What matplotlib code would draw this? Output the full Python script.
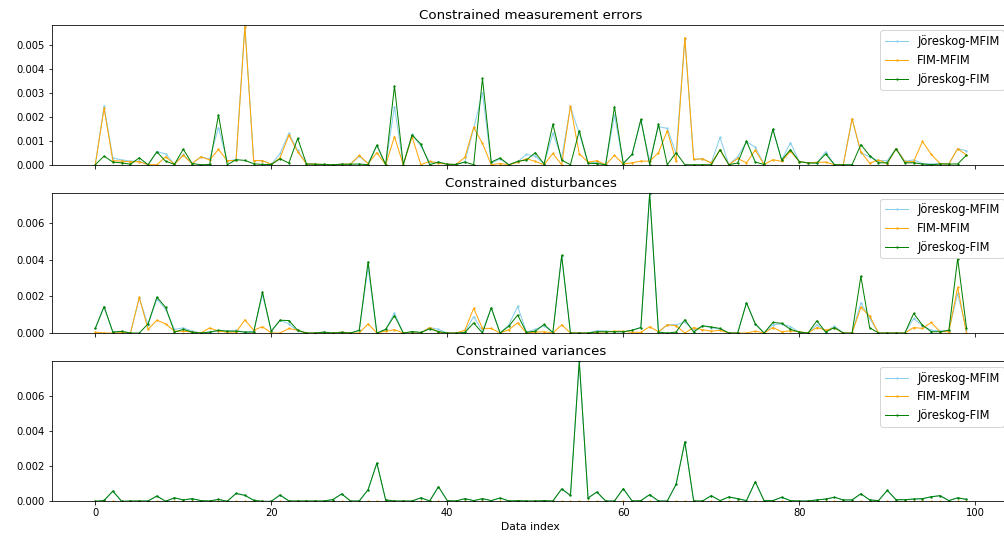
import matplotlib.pyplot as plt

idx = list(range(100))

# Constrained measurement errors (values x 1e-3)
err_jm = [0, 2.45, 0.28, 0.2, 0.15, 0.15, 0, 0.55, 0.45, 0.02,
          0.43, 0.05, 0.33, 0.24, 1.55, 0.15, 0.22, 5.85, 0.17, 0.17,
          0.01, 0.47, 1.31, 0.6, 0.04, 0.02, 0.01, 0, 0.02, 0.02,
          0.35, 0.05, 0.8, 0, 2.42, 0, 1.27, 0.78, 0.1, 0.1,
          0.02, 0.01, 0.12, 1.52, 3.0, 0.05, 0.25, 0, 0.12, 0.43,
          0.36, 0.03, 1.31, 0.3, 2.42, 1.31, 0.06, 0.1, 0, 2.08,
          0.05, 0.43, 1.85, 0.15, 1.59, 1.52, 0.47, 5.27, 0.22, 0.25,
          0.08, 1.14, 0, 0.33, 0.96, 0.74, 0.01, 1.48, 0.2, 0.92,
          0.13, 0.08, 0.07, 0.54, 0, 0, 1.92, 0.5, 0.33, 0.17,
          0.17, 0.67, 0.15, 0.2, 0.05, 0.03, 0.05, 0.03, 0.67, 0.58]
err_fm = [0, 2.35, 0.17, 0.15, 0.12, 0.13, 0, 0.0, 0.33, 0.02,
          0.39, 0.05, 0.33, 0.2, 0.64, 0.17, 0.18, 5.77, 0.17, 0.17,
          0.01, 0.29, 1.23, 0.54, 0.04, 0.02, 0.01, 0, 0.02, 0.02,
          0.39, 0.05, 0.5, 0, 1.17, 0, 1.17, 0.0, 0.14, 0.07,
          0.02, 0.01, 0.31, 1.56, 0.89, 0.0, 0.05, 0, 0.1, 0.25,
          0.14, 0.0, 0.47, 0.0, 2.45, 0.46, 0.1, 0.17, 0, 0.39,
          0.03, 0.08, 0.15, 0.15, 0.5, 1.42, 0.15, 5.31, 0.22, 0.25,
          0.07, 0.61, 0, 0.26, 0.08, 0.61, 0.01, 0.21, 0.14, 0.56,
          0.13, 0.08, 0.1, 0.11, 0, 0, 1.92, 0.54, 0.06, 0.2,
          0.05, 0.67, 0.13, 0.13, 0.97, 0.43, 0.05, 0.03, 0.67, 0.4]
err_jf = [0, 0.36, 0.11, 0.08, 0.02, 0.29, 0, 0.54, 0.14, 0.02,
          0.65, 0.05, 0.0, 0.01, 2.08, 0.0, 0.21, 0.18, 0.04, 0.01,
          0.01, 0.25, 0.07, 1.1, 0.03, 0.02, 0.01, 0, 0.02, 0.02,
          0.03, 0.0, 0.82, 0, 3.29, 0, 1.24, 0.86, 0.0, 0.11,
          0.02, 0.01, 0.11, 0.0, 3.61, 0.11, 0.28, 0, 0.14, 0.2,
          0.5, 0.03, 1.69, 0.19, 0.0, 1.42, 0.06, 0.05, 0, 2.42,
          0.05, 0.43, 1.89, 0.0, 1.7, 0.0, 0.5, 0.0, 0.0, 0.0,
          0.0, 0.63, 0, 0.07, 0.99, 0.11, 0.01, 1.48, 0.19, 0.63,
          0.13, 0.07, 0.07, 0.45, 0, 0, 0.0, 0.84, 0.38, 0.08,
          0.08, 0.67, 0.08, 0.08, 0.03, 0.0, 0.03, 0.03, 0.03, 0.4]

# Constrained disturbances (values x 1e-3)
dis_jm = [0.25, 1.44, 0.05, 0.09, 0, 1.9, 0.45, 1.85, 1.3, 0.2,
          0.28, 0.1, 0, 0.05, 0.1, 0.12, 0.15, 0.05, 0.1, 2.1,
          0.1, 0.7, 0.5, 0.1, 0, 0, 0.05, 0, 0.05, 0,
          0.15, 3.6, 0, 0.2, 1.1, 0, 0.05, 0.03, 0.3, 0.2,
          0, 0, 0.05, 0.9, 0.1, 1.38, 0, 0.45, 1.45, 0.04,
          0.2, 0.4, 0.02, 4.2, 0, 0, 0, 0.13, 0.11, 0.07,
          0.07, 0.15, 0.3, 7.6, 0.05, 0.45, 0.45, 0.6, 0.15, 0.38,
          0.3, 0.2, 0, 0, 1.65, 0.5, 0, 0.45, 0.5, 0.35,
          0.05, 0, 0.45, 0.08, 0.38, 0, 0, 1.65, 0.8, 0,
          0, 0, 0, 0.8, 0.4, 0.16, 0.12, 0.12, 2.16, 0.16]
dis_fm = [0.05, 0, 0, 0.02, 0, 1.95, 0.2, 0.7, 0.5, 0.1,
          0.1, 0.05, 0, 0.28, 0.1, 0.05, 0.05, 0.72, 0.15, 0.35,
          0.0, 0.0, 0.25, 0.15, 0, 0, 0.02, 0, 0.05, 0,
          0, 0.5, 0, 0.1, 0.18, 0, 0, 0, 0.3, 0.05,
          0, 0, 0.15, 1.35, 0.25, 0.25, 0, 0.18, 0.56, 0,
          0.05, 0.07, 0, 0.45, 0, 0, 0, 0.05, 0.06, 0.1,
          0.1, 0.04, 0.04, 0.35, 0.07, 0.45, 0.4, 0.0, 0.3, 0.18,
          0.1, 0.15, 0, 0, 0.0, 0.1, 0, 0.3, 0.07, 0.12,
          0.07, 0, 0.3, 0.16, 0.27, 0, 0, 1.4, 0.93, 0,
          0, 0, 0, 0.3, 0.25, 0.58, 0.07, 0.07, 2.49, 0]
dis_jf = [0.25, 1.44, 0.05, 0.09, 0, 0.0, 0.5, 1.96, 1.4, 0.05,
          0.2, 0.05, 0, 0.05, 0.15, 0.1, 0.1, 0.05, 0.05, 2.24,
          0.1, 0.7, 0.68, 0.15, 0, 0, 0.05, 0, 0.03, 0,
          0.15, 3.89, 0, 0.2, 0.95, 0, 0.08, 0.03, 0.23, 0.08,
          0, 0, 0.03, 0.55, 0.0, 1.38, 0, 0.38, 0.98, 0.04,
          0.1, 0.47, 0.02, 4.24, 0, 0, 0, 0.07, 0.07, 0.07,
          0.07, 0.15, 0.3, 7.65, 0.05, 0.0, 0.05, 0.73, 0.05, 0.4,
          0.33, 0.25, 0, 0, 1.65, 0.5, 0, 0.58, 0.53, 0.2,
          0.05, 0, 0.67, 0.05, 0.3, 0, 0, 3.1, 0.29, 0,
          0, 0, 0, 1.07, 0.43, 0.07, 0.07, 0.15, 4.07, 0.3]

# Constrained variances (values x 1e-3)
var_jf = [0.0, 0.05, 0.58, 0, 0.02, 0.02, 0.02, 0.3, 0, 0.2,
          0.08, 0.15, 0.04, 0.02, 0.11, 0, 0.45, 0.34, 0.06, 0,
          0, 0.36, 0.02, 0.02, 0.02, 0.02, 0.02, 0.1, 0.42, 0.02,
          0.02, 0.66, 2.17, 0.08, 0.02, 0.02, 0.02, 0.2, 0.02, 0.83,
          0.04, 0.02, 0.15, 0.04, 0.15, 0.04, 0.19, 0.02, 0.04, 0.02,
          0.02, 0.04, 0.02, 0.7, 0.34, 7.95, 0.19, 0.53, 0.02, 0.02,
          0.72, 0.02, 0.04, 0.38, 0.02, 0.02, 0.96, 3.38, 0.02, 0.02,
          0.32, 0.04, 0.25, 0.15, 0.04, 1.11, 0.04, 0.04, 0.23, 0.04,
          0.02, 0.02, 0.08, 0.13, 0.23, 0.08, 0.08, 0.43, 0.08, 0.04,
          0.62, 0.09, 0.09, 0.13, 0.15, 0.26, 0.32, 0.04, 0.2, 0.11]
var_jm = list(var_jf)
var_fm = [0.0] * 100

panels = [
    ("Constrained measurement errors", err_jm, err_fm, err_jf),
    ("Constrained disturbances", dis_jm, dis_fm, dis_jf),
    ("Constrained variances", var_jm, var_fm, var_jf),
]

fig = plt.figure(figsize=(1004 / 72, 536 / 72), dpi=72)
bottoms = [0.6927, 0.3787, 0.0647]
axes = []
for k, (title, jm, fm, jf) in enumerate(panels):
    if k == 0:
        ax = fig.add_axes([0.0515, bottoms[k], 0.9545, 0.2612])
    else:
        ax = fig.add_axes([0.0515, bottoms[k], 0.9545, 0.2612], sharex=axes[0])
    axes.append(ax)
    jm = [v * 1e-3 for v in jm]
    fm = [v * 1e-3 for v in fm]
    jf = [v * 1e-3 for v in jf]
    ax.plot(idx, jm, color="skyblue", lw=1, marker=".", ms=2.5, label="Jöreskog-MFIM")
    ax.plot(idx, fm, color="orange", lw=1, marker=".", ms=2.5, label="FIM-MFIM")
    ax.plot(idx, jf, color="green", lw=1, marker=".", ms=2.5, label="Jöreskog-FIM")
    ax.set_ylim(0, max(jm + fm + jf))
    ax.set_title(title, fontsize=13.4)
    ax.legend(loc="upper right", fontsize=11.5)
    if k < 2:
        plt.setp(ax.get_xticklabels(), visible=False)

axes[-1].set_xlabel("Data index", fontsize=10.7)

plt.savefig("out.png", dpi=72)
